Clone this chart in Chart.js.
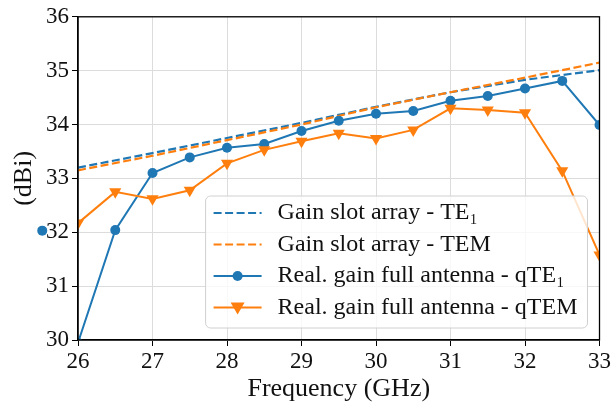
<!DOCTYPE html>
<html lang="en">
<head>
  <meta charset="UTF-8">
  <title>Gain vs Frequency</title>
  <script src="https://cdn.jsdelivr.net/npm/chart.js"></script>
  <style>
    body { margin: 0; background: #fff; }
    #wrap { width: 613px; height: 405px; }
  </style>
</head>
<body>
  <div id="wrap"><canvas id="gainChart" width="613" height="405"></canvas></div>

  <script>
    // frequency points (GHz)
    const freqs = [26, 26.5, 27, 27.5, 28, 28.5, 29, 29.5, 30, 30.5, 31, 31.5, 32, 32.5, 33];
    const arrayFreqs = [26, 27, 28, 29, 30, 31, 32, 33];

    // gain values (dBi)
    const slotTE1 = [33.20, 33.47, 33.75, 34.03, 34.33, 34.60, 34.83, 35.01];
    const slotTEM = [33.15, 33.42, 33.71, 34.00, 34.32, 34.60, 34.87, 35.15];
    const realQTE1 = [29.95, 32.04, 33.10, 33.39, 33.57, 33.64, 33.88, 34.07, 34.20, 34.25, 34.44, 34.53, 34.67, 34.81, 33.99];
    const realQTEM = [32.17, 32.75, 32.62, 32.78, 33.28, 33.53, 33.69, 33.84, 33.74, 33.90, 34.30, 34.27, 34.22, 33.14, 31.58];
    // stray marker left of the axis in the original figure
    const strayX = [25.52];
    const strayY = [32.03];

    const legendLabels = ['Gain slot array - TE₁', 'Gain slot array - TEM', 'Real. gain full antenna - qTE₁', 'Real. gain full antenna - qTEM'];
    const xTicks = [26, 27, 28, 29, 30, 31, 32, 33];
    const yTicks = [30, 31, 32, 33, 34, 35, 36];

    const BLUE = '#1f77b4';
    const ORANGE = '#ff7f0e';
    const FONT = "'Liberation Serif', 'DejaVu Serif', serif";

    const pts = (xs, ys) => xs.map((x, i) => ({ x: x, y: ys[i] }));

    // box around plot, stray marker, legend inside lower right
    const framePlugin = {
      id: 'frame',
      afterDatasetsDraw(chart) {
        const { ctx, chartArea: a } = chart;
        const sx = chart.scales.x, sy = chart.scales.y;
        ctx.save();
        ctx.strokeStyle = '#000';
        ctx.lineWidth = 1.3;
        ctx.strokeRect(a.left, a.top, a.right - a.left, a.bottom - a.top);

        ctx.fillStyle = BLUE;
        strayX.forEach((v, i) => {
          ctx.beginPath();
          ctx.arc(sx.getPixelForValue(v), sy.getPixelForValue(strayY[i]), 5, 0, Math.PI * 2);
          ctx.fill();
        });

        ctx.font = '24px ' + FONT;
        let maxW = 0;
        legendLabels.forEach(t => { maxW = Math.max(maxW, ctx.measureText(t).width); });
        const w = 72 + maxW + 10;
        const h = 132;
        const x0 = a.right - 12 - w;
        const y0 = a.bottom - 12 - h;
        ctx.beginPath();
        ctx.roundRect(x0, y0, w, h, 5);
        ctx.fillStyle = 'rgba(255,255,255,0.8)';
        ctx.fill();
        ctx.strokeStyle = '#d0d0d0';
        ctx.lineWidth = 1;
        ctx.stroke();

        legendLabels.forEach((t, i) => {
          const ds = chart.data.datasets[i];
          const cy = y0 + 17 + i * 31.5;
          ctx.beginPath();
          ctx.strokeStyle = ds.borderColor;
          ctx.lineWidth = 2;
          ctx.setLineDash(ds.borderDash || []);
          ctx.moveTo(x0 + 8, cy);
          ctx.lineTo(x0 + 56, cy);
          ctx.stroke();
          ctx.setLineDash([]);
          ctx.fillStyle = ds.borderColor;
          if (ds.pointStyle === 'circle' && ds.pointRadius > 0) {
            ctx.beginPath();
            ctx.arc(x0 + 32, cy, 5, 0, Math.PI * 2);
            ctx.fill();
          } else if (ds.pointStyle === 'triangle' && ds.pointRadius > 0) {
            ctx.beginPath();
            ctx.moveTo(x0 + 32 - 7, cy - 5);
            ctx.lineTo(x0 + 32 + 7, cy - 5);
            ctx.lineTo(x0 + 32, cy + 7);
            ctx.closePath();
            ctx.fill();
          }
          ctx.fillStyle = '#111';
          ctx.textBaseline = 'middle';
          ctx.fillText(t, x0 + 72, cy);
        });
        ctx.restore();
      }
    };

    new Chart(document.getElementById('gainChart').getContext('2d'), {
      type: 'line',
      data: {
        datasets: [
          { data: pts(arrayFreqs, slotTE1), borderColor: BLUE, borderWidth: 2.2, borderDash: [8, 3.5], pointRadius: 0, order: 4, clip: 0 },
          { data: pts(arrayFreqs, slotTEM), borderColor: ORANGE, borderWidth: 2.2, borderDash: [8, 3.5], pointRadius: 0, order: 3, clip: 0 },
          { data: pts(freqs, realQTE1), borderColor: BLUE, backgroundColor: BLUE, borderWidth: 2, pointStyle: 'circle', pointRadius: 5, pointBorderWidth: 0, order: 2, clip: 0 },
          { data: pts(freqs, realQTEM), borderColor: ORANGE, backgroundColor: ORANGE, borderWidth: 2, pointStyle: 'triangle', pointRotation: 180, pointRadius: 7, pointBorderWidth: 0, order: 1, clip: 0 }
        ]
      },
      options: {
        responsive: false,
        animation: false,
        layout: { padding: { top: 16, right: 13, left: 9, bottom: 0 } },
        plugins: { legend: { display: false }, tooltip: { enabled: false } },
        scales: {
          x: {
            type: 'linear',
            min: 26, max: 33,
            afterBuildTicks: s => { s.ticks = xTicks.map(v => ({ value: v })); },
            afterFit: s => { s.height = 65; },
            grid: { color: '#dcdcdc', tickColor: '#000', tickLength: 6, lineWidth: 1 },
            border: { color: '#000', width: 1.3 },
            ticks: { color: '#111', font: { family: FONT, size: 23 }, padding: 2, maxRotation: 0 },
            title: { display: true, text: 'Frequency (GHz)', color: '#111', font: { family: FONT, size: 26 }, padding: { top: 0, bottom: 0 } }
          },
          y: {
            min: 30, max: 36,
            afterBuildTicks: s => { s.ticks = yTicks.map(v => ({ value: v })); },
            afterFit: s => { s.width = 69; },
            grid: { color: '#dcdcdc', tickColor: '#000', tickLength: 6, lineWidth: 1 },
            border: { color: '#000', width: 1.3 },
            ticks: { color: '#111', font: { family: FONT, size: 23 }, padding: 3 },
            title: { display: true, text: '(dBi)', color: '#111', font: { family: FONT, size: 26 }, padding: { top: 0, bottom: 4 } }
          }
        }
      },
      plugins: [framePlugin]
    });
  </script>
</body>
</html>
